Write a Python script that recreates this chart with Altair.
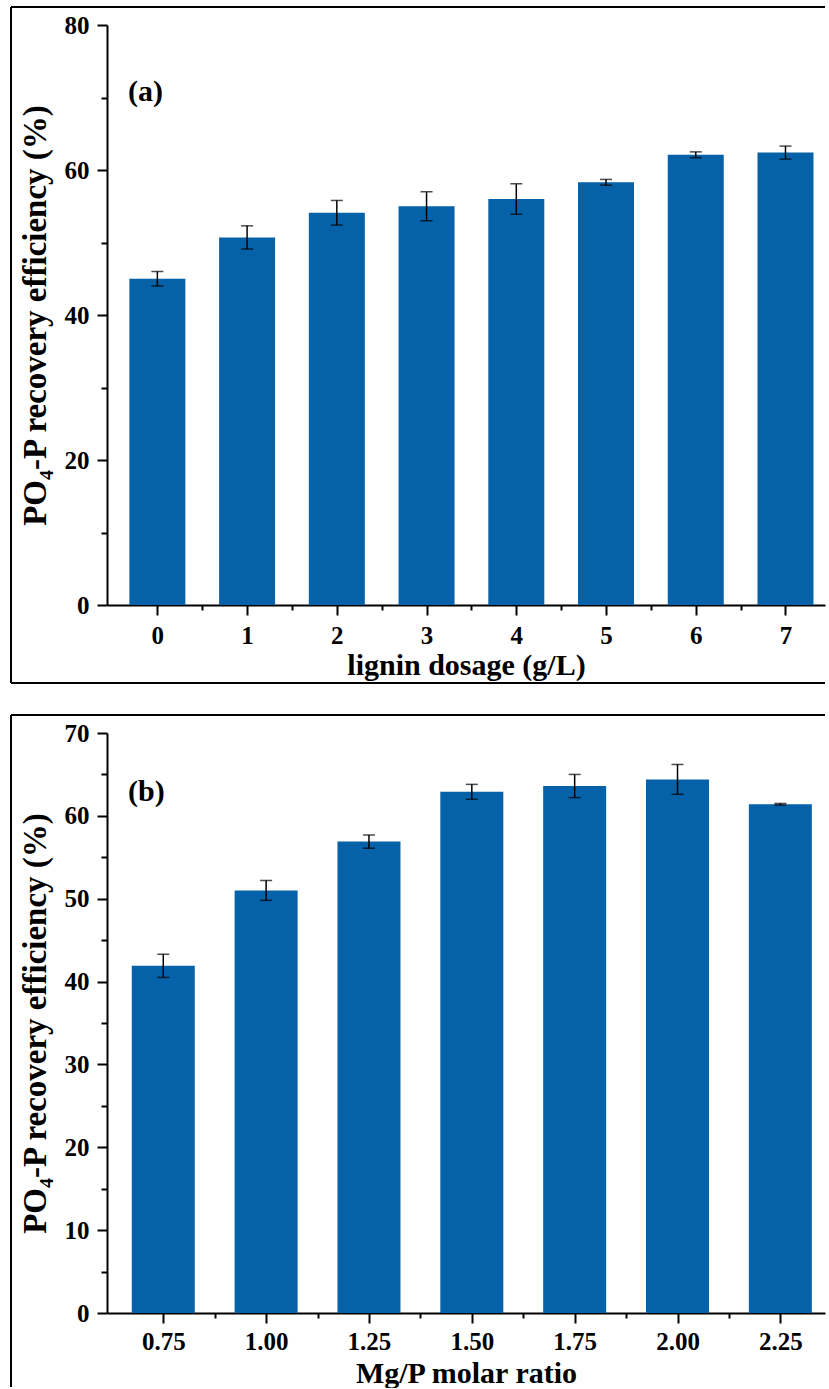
import altair as alt
import pandas as pd

# Panel (a): lignin dosage series
dosage = [0, 1, 2, 3, 4, 5, 6, 7]
eff_a = [45.0, 50.7, 54.1, 55.0, 56.0, 58.3, 62.1, 62.4]
err_a = [1.0, 1.6, 1.7, 2.0, 2.1, 0.4, 0.4, 0.9]

# Panel (b): Mg/P molar ratio series
ratio = [0.75, 1.00, 1.25, 1.50, 1.75, 2.00, 2.25]
eff_b = [41.9, 51.0, 56.9, 62.9, 63.6, 64.4, 61.4]
err_b = [1.4, 1.2, 0.8, 0.9, 1.4, 1.8, 0.1]

FONT = "Liberation Serif"
BLUE = "#0562a8"
PLOT_W = 718
PLOT_H = 580
Y_TITLE = "PO\u2084-P recovery efficiency (%)"


def is_major(step):
    return f"abs(datum.value / {step} - round(datum.value / {step})) < 0.001"


def panel(xs, ys, es, x_domain, x_step, x_fmt, x_title, x_label_pad, x_title_pad,
          y_max, y_step, tag, tag_y, bar_size):
    df = pd.DataFrame({"x": [float(v) for v in xs], "eff": ys, "err": es})
    base = alt.Chart(df).transform_calculate(
        lo="datum.eff - datum.err", hi="datum.eff + datum.err"
    )

    # labelled values plus half-step minor ticks between them
    half = x_step / 2
    x_vals = []
    i = 0
    while xs[0] + i * half <= x_domain[1]:
        x_vals.append(round(xs[0] + i * half, 4))
        i += 1
    y_vals = [round(k * y_step / 2, 4) for k in range(int(y_max / (y_step / 2)) + 1)]

    x_axis = alt.Axis(
        values=x_vals, labelOverlap=False,
        labelExpr=f"{is_major(x_step)} ? format(datum.value, '{x_fmt}') : ''",
        tickSize={"condition": {"test": f"!({is_major(x_step)})", "value": 5}, "value": 10},
        labelPadding=x_label_pad, titlePadding=x_title_pad, grid=False,
    )
    y_axis = alt.Axis(
        values=y_vals, labelOverlap=False,
        labelExpr=f"{is_major(y_step)} ? datum.label : ''",
        tickSize={"condition": {"test": f"!({is_major(y_step)})", "value": 6}, "value": 10},
        labelPadding=8, titlePadding=12, grid=False, titleFontSize=33,
    )
    x_scale = alt.Scale(domain=x_domain, nice=False, zero=False)
    y_scale = alt.Scale(domain=[0, y_max], nice=False)

    X = alt.X("x:Q", scale=x_scale, axis=x_axis, title=x_title)

    bars = base.mark_bar(size=bar_size, color=BLUE, orient="vertical").encode(
        x=X,
        y=alt.Y("eff:Q", scale=y_scale, axis=y_axis, title=Y_TITLE),
        y2=alt.datum(0),
    )
    whisker = base.mark_rule(color="black", strokeWidth=1.5).encode(
        x=X,
        y=alt.Y("lo:Q", scale=y_scale, axis=y_axis, title=Y_TITLE),
        y2="hi:Q",
    )
    cap_lo = base.mark_tick(orient="horizontal", size=12, thickness=1.5, color="black").encode(
        x=X, y=alt.Y("lo:Q", scale=y_scale, axis=y_axis, title=Y_TITLE)
    )
    cap_hi = base.mark_tick(orient="horizontal", size=12, thickness=1.5, color="black").encode(
        x=X, y=alt.Y("hi:Q", scale=y_scale, axis=y_axis, title=Y_TITLE)
    )

    one = alt.Chart(pd.DataFrame({"k": [0]}))
    label = one.mark_text(
        text=tag, font=FONT, fontSize=30, fontWeight="bold",
        align="left", baseline="middle", color="black",
    ).encode(x=alt.value(21), y=alt.value(tag_y))

    return alt.layer(bars, whisker, cap_lo, cap_hi, label).properties(
        width=PLOT_W, height=PLOT_H
    ), one


def frame(one, bottom, closed):
    # open-right box around a panel, drawn in pixel space of the panel
    left = one.mark_rule(color="black", strokeWidth=2).encode(
        x=alt.value(-96), y=alt.value(-18), y2=alt.value(bottom)
    )
    top = one.mark_rule(color="black", strokeWidth=2).encode(
        x=alt.value(-96), x2=alt.value(PLOT_W), y=alt.value(-18)
    )
    parts = [left, top]
    if closed:
        parts.append(one.mark_rule(color="black", strokeWidth=2).encode(
            x=alt.value(-96), x2=alt.value(PLOT_W), y=alt.value(bottom)
        ))
    return parts


a_dom = [-46 / 91, -46 / 91 + PLOT_W / 91]
b_lo = 0.75 - 52 / 104.3 * 0.25
b_dom = [b_lo, b_lo + PLOT_W / 104.3 * 0.25]

pa, one_a = panel(dosage, eff_a, err_a, a_dom, 1, "d", "lignin dosage (g/L)", 8, 2,
                  80, 20, "(a)", 67, 56)
pb, one_b = panel(ratio, eff_b, err_b, b_dom, 0.25, ".2f", "Mg/P molar ratio", 6, 4,
                  70, 10, "(b)", 59, 63)

chart_a = alt.layer(pa, *frame(one_a, 658, True)).properties(width=PLOT_W, height=PLOT_H)
chart_b = alt.layer(pb, *frame(one_b, 654, False)).properties(width=PLOT_W, height=PLOT_H)

chart = alt.vconcat(chart_a, chart_b, spacing=30).properties(
    padding={"left": 10, "top": 6, "right": 0, "bottom": 0},
    background="white",
).configure_view(stroke=None).configure_axis(
    labelFont=FONT, labelFontWeight="bold", labelFontSize=25, labelColor="black",
    titleFont=FONT, titleFontWeight="bold", titleFontSize=30, titleColor="black",
    domainColor="black", domainWidth=2, tickColor="black", tickWidth=2,
)

chart.save("out.html", embed_options={"renderer": "svg", "actions": False})
